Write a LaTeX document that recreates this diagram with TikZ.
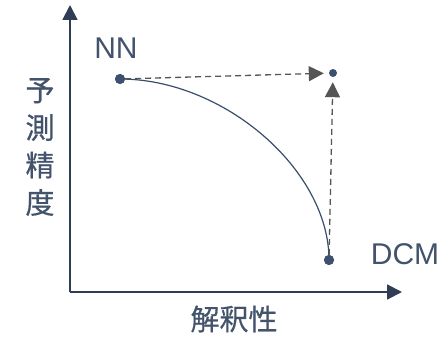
\documentclass[tikz,border=0pt]{standalone}
\usepackage{fontspec}
\setmainfont{Liberation Sans}
\newfontfamily\cjk[FakeBold=0.6]{Noto Sans CJK JP}
\usetikzlibrary{positioning,arrows.meta}
\definecolor{axisline}{HTML}{2F3E55}
\definecolor{curveline}{HTML}{3A4D6B}
\definecolor{dotfill}{HTML}{3D5070}
\definecolor{labeltext}{HTML}{42536B}
\definecolor{dashline}{HTML}{555555}
\tikzset{
  axis/.style={draw=axisline, line width=1.8pt, -{Triangle[length=15pt,width=15pt]}},
  front/.style={draw=curveline, line width=1.2pt},
  dot/.style={circle, fill=dotfill, inner sep=0pt, minimum size=#1},
  dot/.default=10pt,
  move/.style={draw=dashline, line width=1.3pt, dash pattern=on 6pt off 4pt,
               -{Triangle[length=15pt,width=15pt]}, shorten >=5pt},
  lbl/.style={text=labeltext, font=\fontsize{30}{34}\selectfont, inner sep=0pt},
}

\begin{document}
\begin{tikzpicture}[x=1pt, y=-1pt]
  \useasboundingbox (0,0) rectangle (446,337);
  \coordinate (origin) at (70,292);
  \coordinate (xend) at (402,292);
  \coordinate (yend) at (70,5);
  \draw[axis] (origin) -- (xend);
  \draw[axis] (origin) -- (yend);
  \node[lbl, font=\cjk\fontsize{29}{34}\selectfont] (xlabel) at (234,319) {解釈性};
  \node[lbl, align=center, font=\cjk\fontsize{29}{37.5}\selectfont] (ylabel) at (40,147) {予\\測\\精\\度};
  % models
  \node[dot] (nn) at (120,79) {};
  \node[dot] (dcm) at (329,260) {};
  \node[dot=8pt] (goal) at (333,73) {};
  \node[lbl] (nnlabel) at (116,48.5) {NN};
  \node[lbl] (dcmlabel) at (405,254) {DCM};
  \draw[front] (nn.center) .. controls +(104,0) and +(0,-90) .. (dcm.center);
  \node[dot] at (nn) {};
  \node[dot] at (dcm) {};
  \foreach \a in {nn,dcm} \draw[move] (\a) -- (goal);
\end{tikzpicture}
\end{document}
